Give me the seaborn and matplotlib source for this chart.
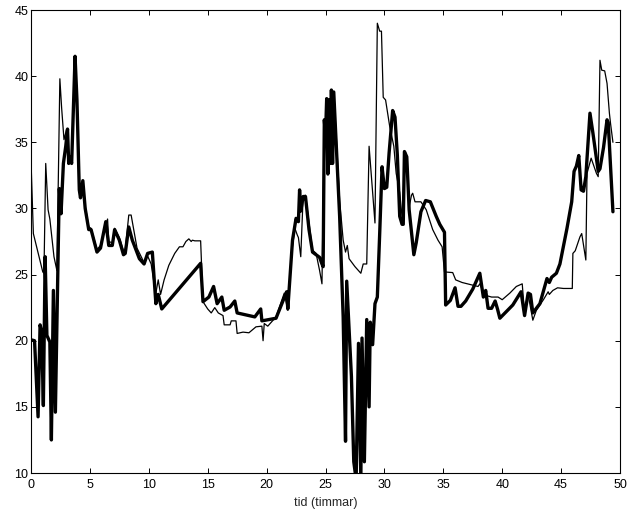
import matplotlib
matplotlib.use("Agg")
import matplotlib.pyplot as plt
import seaborn as sns
import pandas as pd

# thick series
thick_x = [0.1, 0.3, 0.6, 0.77, 0.9, 1.05, 1.2, 1.35, 1.6, 1.73, 1.9, 2.07, 2.4, 2.55, 2.75, 2.95,
           3.1, 3.2, 3.3, 3.45, 3.74, 3.9, 4.1, 4.2, 4.4, 4.6, 4.9, 5.1, 5.6, 5.9, 6.35, 6.6, 6.9,
           7.1, 7.5, 7.85, 8.0, 8.3, 8.6, 9.2, 9.6, 9.9, 10.3, 10.5, 10.6, 10.8, 11.1, 14.4, 14.6,
           15.1, 15.5, 15.8, 16.2, 16.4, 16.9, 17.3, 17.5, 19.0, 19.5, 19.6, 20.8, 21.7, 21.8, 22.2,
           22.5, 22.7, 22.8, 22.9, 23.1, 23.3, 23.6, 23.9, 24.5, 24.7, 24.8, 24.9, 25.0, 25.1, 25.2,
           25.3, 25.4, 25.5, 25.6, 25.7, 25.9, 26.2, 26.5, 26.7, 26.8, 27.2, 27.4, 27.6, 27.8, 28.0,
           28.1, 28.3, 28.5, 28.7, 28.8, 29.0, 29.2, 29.4, 29.6, 29.8, 30.0, 30.2, 30.4, 30.7, 30.9,
           31.1, 31.3, 31.5, 31.6, 31.7, 31.9, 32.1, 32.5, 32.7, 33.1, 33.5, 33.9, 34.4, 34.7, 35.1,
           35.2, 35.6, 36.0, 36.25, 36.5, 36.9, 37.5, 38.1, 38.4, 38.6, 38.8, 39.1, 39.4, 39.6, 39.8,
           40.9, 41.6, 41.9, 42.2, 42.4, 42.6, 43.2, 43.8, 44.0, 44.2, 44.6, 44.9, 45.5, 45.9, 46.1,
           46.3, 46.5, 46.7, 46.9, 47.1, 47.45, 47.7, 48.15, 48.3, 48.6, 48.9, 49.0, 49.4]
thick_y = [20.05, 20.0, 14.25, 21.2, 20.7, 15.1, 26.35, 20.4, 19.9, 12.5, 23.8, 14.6, 31.5, 29.6, 33.4, 34.7,
           36.0, 33.4, 33.9, 33.4, 41.5, 38.2, 31.4, 30.8, 32.1, 30.0, 28.4, 28.4, 26.7, 27.0, 29.0, 27.2, 27.2,
           28.4, 27.6, 26.5, 26.6, 28.6, 27.6, 26.2, 25.8, 26.6, 26.7, 24.1, 22.8, 23.5, 22.4, 25.85, 22.95,
           23.3, 24.1, 22.8, 23.3, 22.3, 22.55, 23.0, 22.1, 21.8, 22.4, 21.5, 21.7, 23.7, 22.4, 27.6,
           29.25, 29.0, 31.4, 29.8, 30.9, 30.9, 28.4, 26.7, 26.3, 25.8, 25.6, 36.7, 35.5, 38.3, 32.6,
           38.2, 33.4, 38.95, 33.4, 38.8, 35.0, 29.4, 21.8, 12.4, 24.5, 17.3, 10.85, 9.5, 19.8, 9.5,
           20.2, 10.85, 21.6, 15.0, 21.4, 19.7, 22.8, 23.3, 28.1, 33.15, 31.5, 31.6, 34.2, 37.4, 36.9,
           34.0, 29.4, 28.8, 28.8, 34.3, 33.9, 29.9, 26.5, 27.4, 29.75, 30.6, 30.5, 29.4, 28.8, 28.2,
           22.7, 23.05, 24.0, 22.6, 22.6, 23.0, 23.9, 25.1, 23.3, 23.8, 22.45, 22.45, 23.0, 22.4, 21.7,
           22.7, 23.7, 21.9, 23.6, 23.5, 22.1, 22.8, 24.7, 24.4, 24.8, 25.1, 25.8, 28.5, 30.5, 32.8,
           33.2, 34.0, 31.4, 31.3, 32.4, 37.2, 35.7, 32.8, 33.0, 34.6, 36.7, 36.5, 29.75]

# thin series
thin_x = [0.03, 0.2, 0.5, 1.0, 1.1, 1.25, 1.45, 1.6, 1.95, 2.2, 2.45, 2.6, 2.8, 3.0, 3.2, 3.45, 3.74,
          3.9, 4.1, 4.2, 4.4, 4.6, 4.9, 5.1, 5.6, 5.9, 6.5, 6.6, 6.9, 7.1, 7.5, 7.85, 8.0, 8.3, 8.5,
          9.0, 9.6, 9.9, 10.2, 10.5, 10.6, 10.8, 11.0, 11.3, 11.7, 12.2, 12.6, 12.9, 13.15, 13.4,
          13.6, 13.7, 13.9, 14.4, 14.6, 15.0, 15.3, 15.6, 15.9, 16.3, 16.4, 16.9, 17.0, 17.4, 17.5,
          18.0, 18.5, 19.1, 19.6, 19.7, 19.8, 20.1, 20.4, 20.8, 21.5, 21.8, 22.1, 22.4, 22.6, 22.7,
          22.9, 23.1, 23.3, 23.6, 23.9, 24.2, 24.5, 24.7, 24.9, 25.0, 25.1, 25.2, 25.3, 25.4, 25.5,
          25.6, 25.7, 25.9, 26.2, 26.5, 26.7, 26.85, 27.0, 27.5, 28.0, 28.2, 28.5, 28.7, 28.9, 29.2,
          29.4, 29.6, 29.75, 29.9, 30.1, 30.45, 30.8, 31.0, 31.3, 31.55, 31.7, 31.9, 32.1, 32.3, 32.4,
          32.6, 33.1, 33.55, 34.1, 34.55, 34.9, 35.1, 35.8, 36.05, 36.6, 37.95, 38.1, 38.5, 39.1,
          39.65, 40.0, 40.65, 41.2, 41.7, 41.9, 42.2, 42.6, 42.9, 43.5, 43.9, 44.0, 44.3, 44.7, 45.2,
          45.95, 46.0, 46.2, 46.6, 46.75, 47.1, 47.2, 47.55, 48.0, 48.15, 48.3, 48.45, 48.7, 48.9,
          49.1, 49.2, 49.4]
thin_y = [32.8, 28.1, 27.0, 25.2, 25.1, 33.4, 29.9, 29.2, 26.35, 25.3, 39.8, 37.6, 35.2, 35.9, 33.4, 33.6, 41.3,
          38.0, 31.6, 31.0, 32.0, 30.2, 28.6, 28.5, 26.9, 27.2, 29.2, 27.5, 27.4, 28.5, 27.8, 26.8, 26.9, 29.5, 29.5,
          27.0, 25.9, 26.4, 25.8, 24.0, 23.6, 24.6, 23.5, 24.6, 25.7, 26.6, 27.1, 27.1, 27.5, 27.7,
          27.5, 27.6, 27.55, 27.55, 22.95, 22.4, 22.1, 22.5, 22.1, 21.9, 21.2, 21.2, 21.5, 21.5, 20.55,
          20.65, 20.6, 21.05, 21.1, 20.0, 21.3, 21.1, 21.4, 21.8, 23.6, 22.3, 26.5, 28.5, 28.0, 27.8,
          26.35, 30.9, 31.0, 28.9, 26.85, 26.6, 25.3, 24.3, 36.7, 35.5, 38.3, 32.6, 38.2, 33.4, 38.95,
          33.4, 38.8, 35.7, 30.6, 27.6, 26.7, 27.2, 26.2, 25.6, 25.1, 25.8, 25.8, 34.7, 32.4, 28.9,
          44.0, 43.4, 43.4, 38.4, 38.2, 36.2, 34.7, 32.65, 31.2, 28.9, 34.3, 33.9, 30.1, 31.0, 31.15,
          30.5, 30.5, 29.9, 28.4, 27.6, 27.1, 25.2, 25.15, 24.6, 24.4, 24.1, 24.3, 23.45, 23.3,
          23.3, 23.1, 23.6, 24.1, 24.3, 22.05, 23.5, 21.55, 22.3, 23.1, 23.7, 23.5, 23.8, 24.0, 23.95,
          23.95, 26.6, 26.8, 27.85, 28.1, 26.1, 32.65, 33.8, 32.65, 32.4, 41.2, 40.45, 40.4, 39.45,
          37.2, 36.4, 35.0]

x_ticks = [0, 5, 10, 15, 20, 25, 30, 35, 40, 45, 50]
y_ticks = [10, 15, 20, 25, 30, 35, 40, 45]
x_label = "tid (timmar)"

sns.set_style("ticks")
plt.rcParams['font.family'] = ['Liberation Sans', 'DejaVu Sans']

fig = plt.figure(figsize=(6.3, 5.12), dpi=100)
ax = fig.add_axes([31 / 630, 39 / 512, 589 / 630, 463 / 512])

df_thin = pd.DataFrame({"t": thin_x, "v": thin_y})
df_thick = pd.DataFrame({"t": thick_x, "v": thick_y})
sns.lineplot(data=df_thin, x="t", y="v", ax=ax, color="black", linewidth=0.9,
             estimator=None, sort=False)
sns.lineplot(data=df_thick, x="t", y="v", ax=ax, color="black", linewidth=2.4,
             estimator=None, sort=False)

ax.set_xlim(0, 50)
ax.set_ylim(10, 45)
ax.set_xticks(x_ticks)
ax.set_yticks(y_ticks)
ax.set_xlabel(x_label, fontsize=9, labelpad=4)
ax.set_ylabel("")
for s in ax.spines.values():
    s.set_visible(True)
    s.set_linewidth(0.8)
    s.set_color("black")
ax.tick_params(axis="both", direction="in", top=True, right=True, length=3.5,
               width=0.7, labelsize=9, colors="black")
ax.tick_params(axis="x", pad=4.5)
ax.tick_params(axis="y", pad=2)

fig.savefig("out.png", dpi=100)
